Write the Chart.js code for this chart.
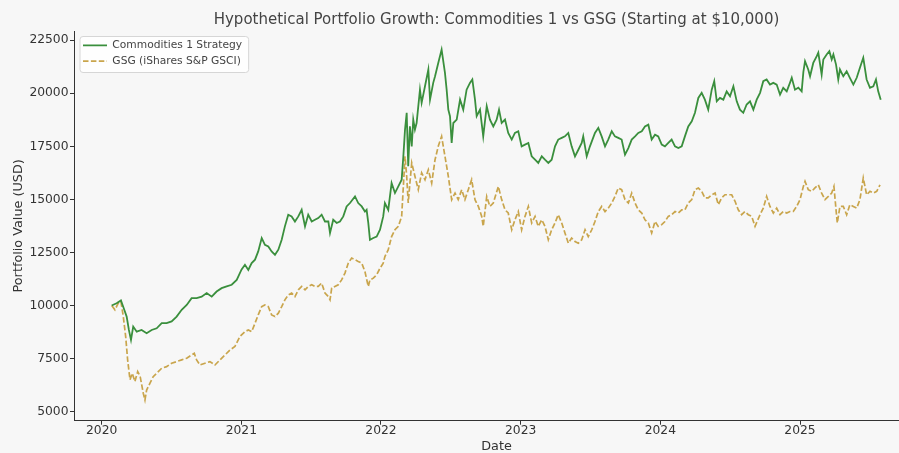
<!DOCTYPE html>
<html>
<head>
<meta charset="utf-8">
<title>Hypothetical Portfolio Growth</title>
<script src="https://cdn.jsdelivr.net/npm/chart.js@4.4.1/dist/chart.umd.min.js"></script>
<style>
  html, body { margin: 0; padding: 0; background: #f7f7f7; }
  #wrap { width: 899px; height: 453px; overflow: hidden; }
  #grafica { display: block; }
</style>
</head>
<body>
<div id="wrap"><canvas id="grafica" width="993" height="453"></canvas></div>
<script>
// ---- DATA (dates as decimal years, values in USD) ----
const yearTicks = [2020, 2021, 2022, 2023, 2024, 2025];
const valueTicks = [5000, 7500, 10000, 12500, 15000, 17500, 20000, 22500];

const stratDates = [
  2020.072, 2020.107, 2020.138, 2020.162, 2020.179, 2020.195, 2020.210, 2020.226, 2020.251, 2020.286,
  2020.322, 2020.358, 2020.394, 2020.430, 2020.465, 2020.501, 2020.537, 2020.573, 2020.609, 2020.644,
  2020.680, 2020.716, 2020.752, 2020.788, 2020.823, 2020.859, 2020.895, 2020.931, 2020.967, 2021.002,
  2021.026, 2021.050, 2021.074, 2021.098, 2021.121, 2021.146, 2021.169, 2021.193, 2021.217, 2021.241,
  2021.265, 2021.289, 2021.312, 2021.336, 2021.360, 2021.384, 2021.408, 2021.432, 2021.456, 2021.479,
  2021.504, 2021.527, 2021.551, 2021.575, 2021.599, 2021.623, 2021.635, 2021.658, 2021.683, 2021.706,
  2021.730, 2021.754, 2021.778, 2021.814, 2021.837, 2021.862, 2021.885, 2021.897, 2021.909, 2021.921,
  2021.945, 2021.969, 2021.993, 2022.016, 2022.028, 2022.052, 2022.076, 2022.100, 2022.124, 2022.148,
  2022.160, 2022.172, 2022.184, 2022.195, 2022.207, 2022.220, 2022.231, 2022.243, 2022.255, 2022.279,
  2022.291, 2022.315, 2022.339, 2022.351, 2022.374, 2022.387, 2022.410, 2022.434, 2022.458, 2022.470,
  2022.482, 2022.494, 2022.506, 2022.518, 2022.542, 2022.566, 2022.589, 2022.613, 2022.637, 2022.654,
  2022.673, 2022.685, 2022.709, 2022.732, 2022.757, 2022.780, 2022.804, 2022.828, 2022.845, 2022.864,
  2022.888, 2022.911, 2022.936, 2022.959, 2022.983, 2023.007, 2023.031, 2023.055, 2023.079, 2023.103,
  2023.126, 2023.151, 2023.174, 2023.198, 2023.222, 2023.246, 2023.269, 2023.294, 2023.317, 2023.341,
  2023.365, 2023.389, 2023.413, 2023.437, 2023.448, 2023.473, 2023.496, 2023.532, 2023.556, 2023.580,
  2023.604, 2023.627, 2023.652, 2023.675, 2023.699, 2023.723, 2023.747, 2023.771, 2023.795, 2023.819,
  2023.842, 2023.867, 2023.890, 2023.914, 2023.938, 2023.962, 2023.985, 2024.010, 2024.033, 2024.057,
  2024.081, 2024.105, 2024.129, 2024.153, 2024.176, 2024.200, 2024.225, 2024.248, 2024.272, 2024.296,
  2024.319, 2024.343, 2024.368, 2024.386, 2024.404, 2024.427, 2024.451, 2024.475, 2024.499, 2024.523,
  2024.547, 2024.570, 2024.594, 2024.618, 2024.642, 2024.666, 2024.690, 2024.714, 2024.737, 2024.761,
  2024.785, 2024.809, 2024.833, 2024.857, 2024.880, 2024.905, 2024.928, 2024.941, 2024.964, 2024.988,
  2025.012, 2025.024, 2025.036, 2025.059, 2025.072, 2025.095, 2025.120, 2025.131, 2025.155, 2025.167,
  2025.191, 2025.210, 2025.227, 2025.239, 2025.258, 2025.274, 2025.286, 2025.310, 2025.334, 2025.357,
  2025.382, 2025.406, 2025.429, 2025.453, 2025.477, 2025.501, 2025.525, 2025.544, 2025.560, 2025.578
];
const stratValues = [
  10000, 10110, 10240, 9800, 9480, 8850, 8380, 9010, 8770, 8850,
  8700, 8850, 8930, 9170, 9170, 9250, 9480, 9800, 10030, 10350,
  10350, 10420, 10590, 10420, 10660, 10820, 10900, 10980, 11210, 11700,
  11920, 11680, 12000, 12160, 12550, 13180, 12860, 12780, 12550, 12390,
  12630, 13100, 13730, 14280, 14200, 13960, 14200, 14510, 13730, 14280,
  13960, 14040, 14120, 14280, 13960, 13960, 13420, 14040, 13890, 13960,
  14200, 14670, 14830, 15140, 14830, 14670, 14430, 14510, 13890, 13100,
  13180, 13250, 13570, 14200, 14830, 14510, 15770, 15300, 15610, 15930,
  17030, 18290, 19080, 16560, 18440, 17500, 18760, 18290, 18600, 20170,
  19550, 20330, 21120, 19700, 20490, 20800, 21430, 22060, 20960, 20170,
  19230, 18920, 17660, 18600, 18760, 19700, 19230, 20170, 20490, 20650,
  19700, 18920, 19230, 17970, 19390, 18760, 18440, 18760, 19230, 18600,
  18760, 18130, 17820, 18130, 18210, 17500, 17580, 17660, 17030, 16870,
  16720, 17030, 16870, 16720, 16870, 17500, 17820, 17900, 17970, 18130,
  17500, 17030, 17340, 17660, 17970, 17030, 17500, 18130, 18370, 17970,
  17500, 17820, 18210, 17970, 17900, 17820, 17110, 17420, 17820, 17970,
  18130, 18210, 18440, 18520, 17820, 18050, 17970, 17580, 17500, 17660,
  17820, 17500, 17420, 17500, 17970, 18440, 18680, 19080, 19780, 20020,
  19700, 19230, 20170, 20570, 19620, 19780, 19700, 20090, 19860, 20330,
  19620, 19230, 19080, 19470, 19620, 19230, 19700, 20020, 20570, 20650,
  20410, 20490, 20410, 19940, 20260, 20090, 20490, 20730, 20170, 20260,
  20090, 21000, 21510, 21120, 20800, 21430, 21750, 21910, 20880, 21590,
  21830, 21980, 21590, 21830, 21350, 20650, 21120, 20800, 21040, 20730,
  20410, 20730, 21200, 21670, 20650, 20260, 20330, 20650, 20090, 19700
];

const gsgDates = [
  2020.072, 2020.095, 2020.119, 2020.138, 2020.155, 2020.172, 2020.186, 2020.203, 2020.219, 2020.238,
  2020.258, 2020.276, 2020.298, 2020.310, 2020.322, 2020.346, 2020.369, 2020.394, 2020.430, 2020.465,
  2020.501, 2020.537, 2020.573, 2020.609, 2020.644, 2020.663, 2020.680, 2020.704, 2020.740, 2020.775,
  2020.811, 2020.847, 2020.883, 2020.919, 2020.954, 2020.990, 2021.026, 2021.050, 2021.074, 2021.098,
  2021.121, 2021.146, 2021.169, 2021.193, 2021.217, 2021.241, 2021.265, 2021.289, 2021.312, 2021.336,
  2021.360, 2021.384, 2021.408, 2021.432, 2021.456, 2021.479, 2021.504, 2021.527, 2021.551, 2021.575,
  2021.599, 2021.623, 2021.635, 2021.647, 2021.670, 2021.694, 2021.718, 2021.742, 2021.766, 2021.790,
  2021.814, 2021.837, 2021.862, 2021.885, 2021.909, 2021.921, 2021.945, 2021.969, 2021.993, 2022.016,
  2022.028, 2022.052, 2022.076, 2022.100, 2022.124, 2022.148, 2022.160, 2022.172, 2022.184, 2022.195,
  2022.207, 2022.220, 2022.243, 2022.267, 2022.291, 2022.315, 2022.339, 2022.363, 2022.387, 2022.410,
  2022.434, 2022.458, 2022.482, 2022.506, 2022.530, 2022.553, 2022.578, 2022.601, 2022.625, 2022.649,
  2022.673, 2022.697, 2022.721, 2022.732, 2022.757, 2022.780, 2022.804, 2022.840, 2022.864, 2022.888,
  2022.911, 2022.936, 2022.959, 2022.983, 2023.007, 2023.031, 2023.055, 2023.079, 2023.103, 2023.126,
  2023.151, 2023.174, 2023.198, 2023.222, 2023.246, 2023.269, 2023.294, 2023.317, 2023.341, 2023.365,
  2023.389, 2023.413, 2023.437, 2023.461, 2023.484, 2023.509, 2023.532, 2023.556, 2023.580, 2023.604,
  2023.627, 2023.652, 2023.675, 2023.699, 2023.723, 2023.747, 2023.771, 2023.795, 2023.819, 2023.842,
  2023.867, 2023.890, 2023.914, 2023.938, 2023.962, 2023.985, 2024.010, 2024.033, 2024.057, 2024.081,
  2024.105, 2024.129, 2024.153, 2024.176, 2024.200, 2024.225, 2024.248, 2024.272, 2024.296, 2024.319,
  2024.343, 2024.368, 2024.392, 2024.415, 2024.439, 2024.463, 2024.487, 2024.511, 2024.535, 2024.558,
  2024.582, 2024.606, 2024.630, 2024.654, 2024.678, 2024.714, 2024.737, 2024.761, 2024.785, 2024.809,
  2024.833, 2024.857, 2024.880, 2024.905, 2024.928, 2024.952, 2024.976, 2025.000, 2025.024, 2025.036,
  2025.059, 2025.084, 2025.107, 2025.131, 2025.155, 2025.179, 2025.203, 2025.227, 2025.243, 2025.258,
  2025.267, 2025.286, 2025.310, 2025.334, 2025.357, 2025.382, 2025.406, 2025.429, 2025.453, 2025.477,
  2025.501, 2025.525, 2025.549, 2025.573
];
const gsgValues = [
  10000, 9800, 10110, 10190, 9480, 8540, 7440, 6500, 6810, 6420,
  6890, 6650, 5870, 5550, 6020, 6340, 6650, 6810, 7050, 7120,
  7280, 7360, 7440, 7520, 7670, 7750, 7440, 7200, 7280, 7360,
  7200, 7440, 7670, 7910, 8070, 8540, 8770, 8850, 8770, 9170,
  9560, 9950, 10030, 9950, 9560, 9480, 9640, 9950, 10270, 10500,
  10590, 10420, 10740, 10900, 10740, 10900, 10980, 10900, 10900, 11060,
  10590, 10420, 10270, 10820, 10900, 10980, 11210, 11530, 12000, 12240,
  12160, 12080, 12000, 11600, 10900, 11210, 11290, 11450, 11760, 12000,
  12310, 12630, 13250, 13570, 13730, 14200, 15610, 17030, 16090, 14830,
  15770, 16720, 16090, 15460, 16250, 15930, 16400, 15770, 16870, 17500,
  17970, 17030, 16090, 14990, 15300, 14990, 15460, 14990, 15460, 15930,
  14990, 14670, 14200, 13730, 15140, 14670, 14830, 15610, 14990, 14510,
  14360, 13570, 14040, 14430, 13570, 14200, 14670, 13890, 14200, 13730,
  14040, 13730, 13100, 13570, 13890, 14280, 13890, 13420, 12940, 13180,
  13020, 12940, 13100, 13570, 13250, 13570, 13960, 14430, 14670, 14430,
  14590, 14830, 15140, 15540, 15460, 14990, 14830, 15300, 14830, 14510,
  14360, 14040, 13890, 13420, 13960, 13730, 13810, 13960, 14200, 14280,
  14430, 14360, 14510, 14510, 14830, 14990, 15460, 15540, 15380, 15070,
  15070, 15220, 15300, 14750, 15070, 15220, 15220, 15220, 14910, 14510,
  14280, 14430, 14280, 14200, 13730, 14280, 14590, 15140, 14670, 14360,
  14590, 14280, 14430, 14360, 14430, 14430, 14670, 14990, 15610, 15850,
  15460, 15380, 15540, 15690, 15300, 14990, 15140, 15300, 15610, 14510,
  13890, 14670, 14670, 14280, 14750, 14670, 14590, 14990, 16010, 15220,
  15380, 15300, 15380, 15690
];

// ---- STYLE ----
const FUENTE = "'DejaVu Sans', 'Liberation Sans', sans-serif";
const COLOR_TEXTO = '#333333';
const COLOR_VERDE = '#3a8f3d';
const COLOR_ORO = '#c9a54c';
const LEYENDA_LINEA = 24;
const LEYENDA_FUENTE = 10.7;

Chart.defaults.font.family = FUENTE;
Chart.defaults.color = COLOR_TEXTO;

function puntos(fechas, valores) {
  return fechas.map((f, i) => ({ x: f, y: valores[i] }));
}

// moves the legend a bit inside the axes, and re-centres the title over the full axes width
const ajustes = {
  id: 'ajustes',
  afterLayout(chart) {
    const area = chart.chartArea;
    const lg = chart.legend;
    lg.left = area.left + 4;
    lg.top = area.top + 4;
    lg.right = area.right;
    lg.bottom = area.bottom;
    if (chart.titleBlock) {
      chart.titleBlock.left = 0;
      chart.titleBlock.right = chart.width;
    }
  },
  beforeDraw(chart) {
    const lg = chart.legend;
    if (!lg || !lg.legendItems) return;
    const c = chart.ctx;
    c.save();
    c.font = LEYENDA_FUENTE + 'px ' + FUENTE;
    const anchoTexto = Math.max(...lg.legendItems.map(it => c.measureText(it.text).width));
    const x = lg.left + 1.5, y = lg.top + 1;
    const w = 3.5 + LEYENDA_LINEA + LEYENDA_FUENTE / 2 + anchoTexto + 6;
    const h = 36;
    c.beginPath();
    c.roundRect(x + 0.5, y + 0.5, w, h, 3);
    c.fillStyle = 'rgba(255,255,255,0.8)';
    c.fill();
    c.strokeStyle = '#d6d6d6';
    c.lineWidth = 1;
    c.stroke();
    c.restore();
  }
};

const ctx = document.getElementById('grafica').getContext('2d');
new Chart(ctx, {
  type: 'line',
  data: {
    datasets: [
      {
        label: 'Commodities 1 Strategy',
        data: puntos(stratDates, stratValues),
        borderColor: COLOR_VERDE,
        borderWidth: 1.8,
        pointRadius: 0,
        tension: 0,
        fill: false
      },
      {
        label: 'GSG (iShares S&P GSCI)',
        data: puntos(gsgDates, gsgValues),
        borderColor: COLOR_ORO,
        borderWidth: 1.7,
        borderDash: [5.5, 2.4],
        pointRadius: 0,
        tension: 0,
        fill: false
      }
    ]
  },
  options: {
    responsive: false,
    animation: false,
    events: [],
    layout: { padding: { left: 0, right: 74, top: 0, bottom: 0 } },
    scales: {
      x: {
        type: 'linear',
        min: 2019.802,
        max: 2025.852,
        afterBuildTicks: s => { s.ticks = yearTicks.map(v => ({ value: v })); },
        afterFit: s => { s.height = 32.3; },
        grid: { drawOnChartArea: false, drawTicks: true, tickLength: 4, tickColor: COLOR_TEXTO, tickWidth: 1 },
        border: { display: true, color: COLOR_TEXTO, width: 1 },
        ticks: { font: { size: 12.3, lineHeight: 1 }, color: COLOR_TEXTO, padding: 0, maxRotation: 0, autoSkip: false, callback: v => String(v) },
        title: { display: true, text: 'Date', font: { size: 12.8, lineHeight: 1 }, color: COLOR_TEXTO, padding: { top: 0, bottom: 0 } }
      },
      y: {
        min: 4575,
        max: 22934,
        afterBuildTicks: s => { s.ticks = valueTicks.map(v => ({ value: v })); },
        afterFit: s => { s.width = 74; },
        grid: { drawOnChartArea: false, drawTicks: true, tickLength: 4, tickColor: COLOR_TEXTO, tickWidth: 1 },
        border: { display: true, color: COLOR_TEXTO, width: 1 },
        ticks: { font: { size: 12.3, lineHeight: 1 }, color: COLOR_TEXTO, padding: 1.5, callback: v => String(v) },
        title: { display: true, text: 'Portfolio Value (USD)', font: { size: 12.8, lineHeight: 1 }, color: COLOR_TEXTO, padding: { top: 12, bottom: 0 } }
      }
    },
    plugins: {
      title: {
        display: true,
        text: 'Hypothetical Portfolio Growth: Commodities 1 vs GSG (Starting at $10,000)',
        font: { size: 15, weight: 'normal', lineHeight: 1.2 },
        color: '#444444',
        padding: { top: 11, bottom: 2 }
      },
      legend: {
        position: 'chartArea',
        align: 'start',
        labels: {
          usePointStyle: true,
          pointStyle: 'line',
          pointStyleWidth: LEYENDA_LINEA,
          padding: 5,
          color: '#444444',
          font: { size: LEYENDA_FUENTE },
          generateLabels: chart => Chart.defaults.plugins.legend.labels.generateLabels(chart).map(it => {
            const ds = chart.data.datasets[it.datasetIndex];
            it.lineDash = ds.borderDash || [];
            it.lineWidth = ds.borderWidth;
            it.strokeStyle = ds.borderColor;
            return it;
          })
        }
      },
      tooltip: { enabled: false }
    }
  },
  plugins: [ajustes]
});
</script>
</body>
</html>
